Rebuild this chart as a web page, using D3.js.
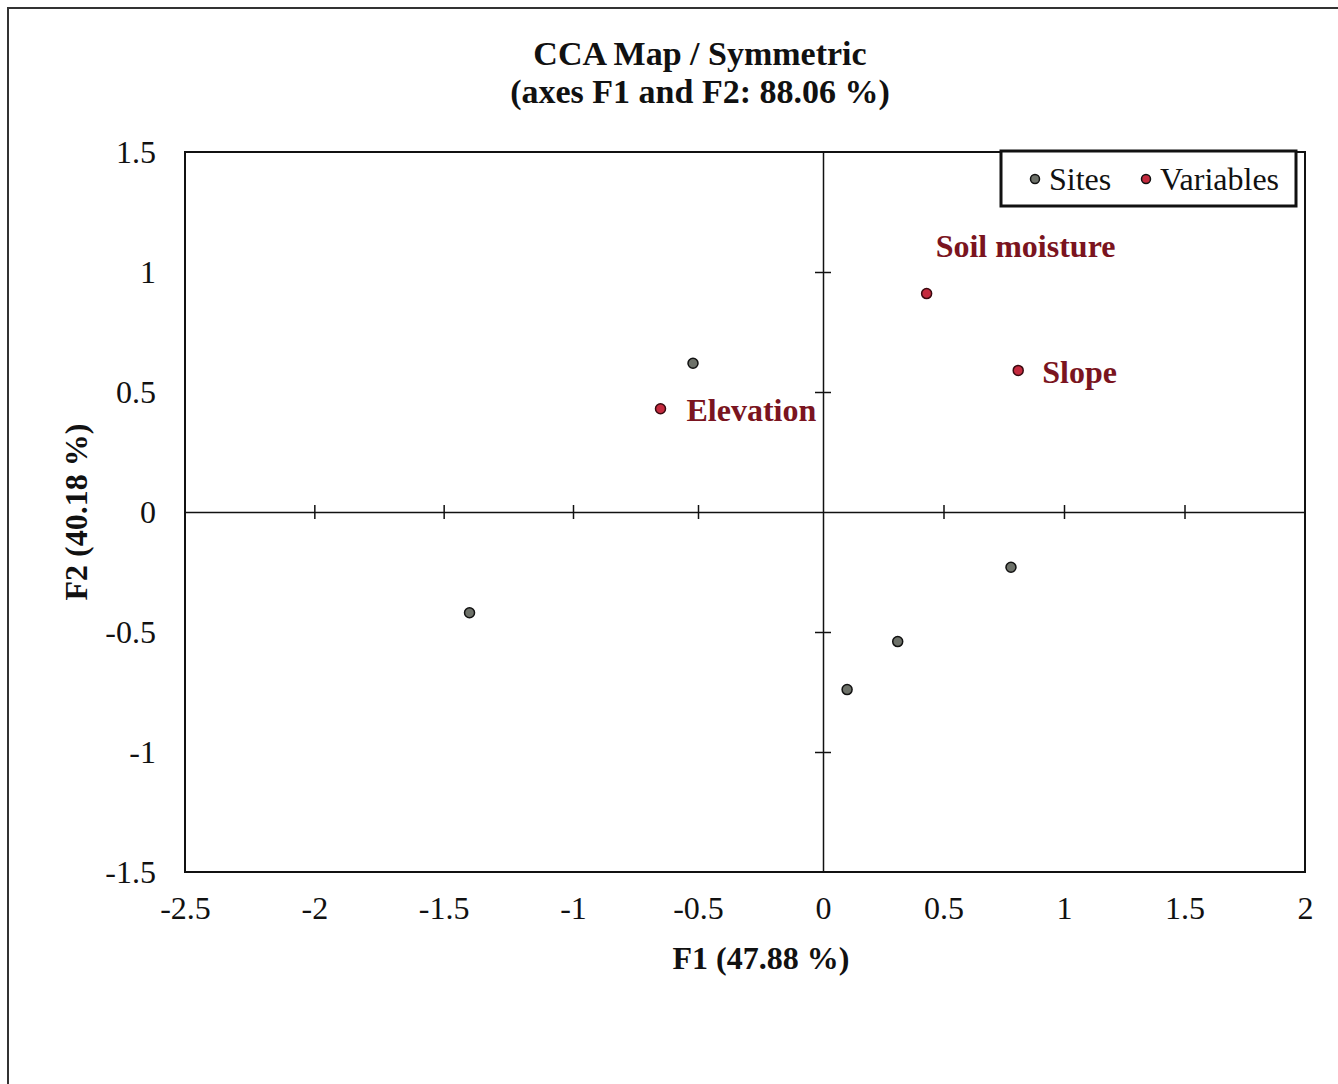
<!DOCTYPE html>
<html>
<head>
<meta charset="utf-8">
<script src="https://cdn.jsdelivr.net/npm/d3@7"></script>
<style>
  html, body { margin: 0; padding: 0; background: #fff; }
  svg { display: block; }
</style>
</head>
<body>
<svg id="chart" width="1338" height="1084"></svg>
<script>
// CCA biplot: site scores and environmental variables on F1/F2
const siteX = [-0.52, -1.40, 0.78, 0.31, 0.10];
const siteY = [0.62, -0.42, -0.23, -0.54, -0.74];

const variableNames = ["Soil moisture", "Slope", "Elevation"];
const variableX = [0.43, 0.81, -0.65];
const variableY = [0.91, 0.59, 0.43];

const xTickValues = [-2.5, -2, -1.5, -1, -0.5, 0, 0.5, 1, 1.5, 2];
const yTickValues = [-1.5, -1, -0.5, 0, 0.5, 1, 1.5];

const titleLines = ["CCA Map / Symmetric", "(axes F1 and F2: 88.06 %)"];
const xTitle = "F1 (47.88 %)";
const yTitle = "F2 (40.18 %)";
const legendItems = ["Sites", "Variables"];

const serif = "'Liberation Serif', 'Times New Roman', serif";
const siteFill = "#6d7169";
const varFill = "#c42a3e";
const varText = "#7a1420";
const plain = d => String(d);   // hyphen-minus, as in the printed axis

const svg = d3.select("#chart");

// outer page frame
svg.append("path")
  .attr("d", "M8,1084 L8,8 L1338,8")
  .attr("fill", "none").attr("stroke", "#333").attr("stroke-width", 2);

const plotLeft = 185, plotRight = 1305, plotTop = 152, plotBottom = 872;

const x = d3.scaleLinear().domain([-2.5, -1, 0, 2]).range([plotLeft, 573, 823, plotRight]);
const y = d3.scaleLinear().domain([-1.5, 1.5]).range([plotBottom, plotTop]);

// plot frame
svg.append("rect")
  .attr("x", plotLeft).attr("y", plotTop)
  .attr("width", plotRight - plotLeft).attr("height", plotBottom - plotTop)
  .attr("fill", "none").attr("stroke", "#111").attr("stroke-width", 2);

// title
svg.append("text")
  .attr("font-family", serif).attr("font-weight", "bold").attr("font-size", 34)
  .attr("text-anchor", "middle").attr("fill", "#111")
  .selectAll("tspan").data(titleLines).join("tspan")
  .attr("x", 700).attr("y", (d, i) => 65 + i * 38)
  .text(d => d);

// tick labels along the frame
svg.append("g").attr("transform", `translate(0,${plotBottom})`)
  .call(d3.axisBottom(x).tickValues(xTickValues).tickSize(0).tickPadding(24).tickFormat(plain))
  .call(g => g.select(".domain").remove())
  .call(g => g.selectAll("text").attr("font-family", serif).attr("font-size", 32).attr("fill", "#111"));

svg.append("g").attr("transform", `translate(${plotLeft},0)`)
  .call(d3.axisLeft(y).tickValues(yTickValues).tickSize(0).tickPadding(29).tickFormat(plain))
  .call(g => g.select(".domain").remove())
  .call(g => g.selectAll("text").attr("font-family", serif).attr("font-size", 32).attr("fill", "#111"));

// zero axes crossing at the origin, with small cross ticks
svg.append("g").attr("transform", `translate(0,${y(0)})`)
  .call(d3.axisBottom(x).tickValues(xTickValues.filter(v => v !== 0 && v !== -2.5 && v !== 2))
    .tickSizeInner(7).tickSizeOuter(0).tickFormat(""))
  .call(g => g.selectAll(".tick line").attr("y1", -7).attr("y2", 7).attr("stroke", "#111").attr("stroke-width", 1.5))
  .call(g => g.select(".domain").attr("stroke", "#111").attr("stroke-width", 1.5));

svg.append("g").attr("transform", `translate(${x(0)},0)`)
  .call(d3.axisLeft(y).tickValues(yTickValues.filter(v => v !== 0 && Math.abs(v) !== 1.5))
    .tickSizeInner(8).tickSizeOuter(0).tickFormat(""))
  .call(g => g.selectAll(".tick line").attr("x1", 8).attr("x2", -8).attr("stroke", "#111").attr("stroke-width", 1.5))
  .call(g => g.select(".domain").attr("stroke", "#111").attr("stroke-width", 1.5));

// axis titles
svg.append("text")
  .attr("x", 761).attr("y", 969)
  .attr("font-family", serif).attr("font-weight", "bold").attr("font-size", 32)
  .attr("text-anchor", "middle").attr("fill", "#111")
  .text(xTitle);

svg.append("text")
  .attr("transform", `translate(87,${y(0)}) rotate(-90)`)
  .attr("font-family", serif).attr("font-weight", "bold").attr("font-size", 32)
  .attr("text-anchor", "middle").attr("fill", "#111")
  .text(yTitle);

// sites
svg.append("g").selectAll("circle")
  .data(siteX.map((v, i) => [v, siteY[i]]))
  .join("circle")
  .attr("cx", d => x(d[0])).attr("cy", d => y(d[1])).attr("r", 5)
  .attr("fill", siteFill).attr("stroke", "#111").attr("stroke-width", 1.5);

// environmental variables
const vars = variableNames.map((n, i) => ({ name: n, vx: variableX[i], vy: variableY[i] }));
const labelOffset = { "Soil moisture": [9, -48], "Slope": [24, 1], "Elevation": [26, 1] };

svg.append("g").selectAll("circle")
  .data(vars).join("circle")
  .attr("cx", d => x(d.vx)).attr("cy", d => y(d.vy)).attr("r", 5)
  .attr("fill", varFill).attr("stroke", "#3a0a10").attr("stroke-width", 1.5);

svg.append("g").selectAll("text")
  .data(vars).join("text")
  .attr("x", d => x(d.vx) + labelOffset[d.name][0])
  .attr("y", d => y(d.vy) + labelOffset[d.name][1])
  .attr("dy", "0.35em")
  .attr("font-family", serif).attr("font-weight", "bold").attr("font-size", 32)
  .attr("fill", varText)
  .text(d => d.name);

// legend
const legend = svg.append("g");
legend.append("rect")
  .attr("x", 1001).attr("y", 151).attr("width", 295).attr("height", 55)
  .attr("fill", "#fff").attr("stroke", "#111").attr("stroke-width", 3);
const legendX = [1035, 1146];
const legendFill = [siteFill, varFill];
legendItems.forEach((name, i) => {
  legend.append("circle")
    .attr("cx", legendX[i]).attr("cy", 179).attr("r", 4.5)
    .attr("fill", legendFill[i]).attr("stroke", "#111").attr("stroke-width", 1.5);
  legend.append("text")
    .attr("x", legendX[i] + 14).attr("y", 179).attr("dy", "0.35em")
    .attr("font-family", serif).attr("font-size", 32).attr("fill", "#111")
    .text(name);
});
</script>
</body>
</html>
